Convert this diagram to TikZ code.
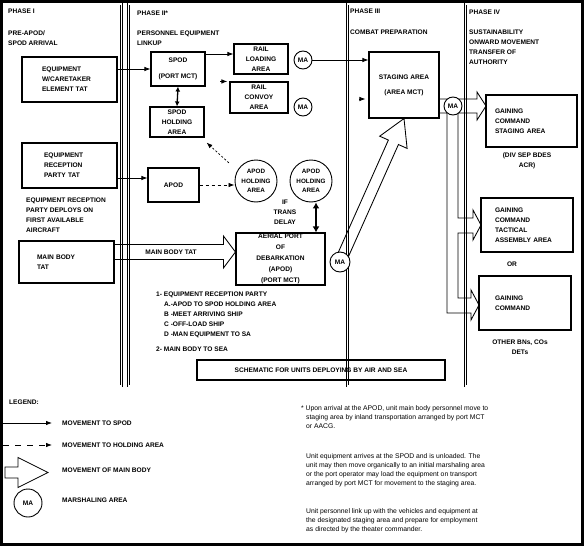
\documentclass[tikz,border=0pt]{standalone}
\usepackage{fontspec}
\setmainfont{Liberation Sans}
\usetikzlibrary{calc,arrows.meta}

\newcommand{\fatarrow}[5]{%
  \coordinate (fa-b) at ($(#2)!#5!(#1)$);
  \draw[fat] ($(#1)!#3!90:(#2)$) -- ($(fa-b)!#3!-90:(#1)$) -- ($(fa-b)!#4!-90:(#1)$) -- (#2)
    -- ($(fa-b)!#4!90:(#1)$) -- ($(fa-b)!#3!90:(#1)$) -- ($(#1)!#3!-90:(#2)$) -- cycle;}

\begin{document}
\begin{tikzpicture}[x=1pt,y=-1pt,
  lbl/.style={inner sep=0pt, align=left, font=\fontsize{6.6}{10}\selectfont\bfseries},
  box/.style={draw, line width=1.1pt, inner sep=0pt, align=left, font=\fontsize{6.6}{10}\selectfont\bfseries},
  cbox/.style={box, align=center},
  ma/.style={draw, circle, fill=white, line width=0.9pt, inner sep=0pt, minimum size=18pt, font=\fontsize{6.6}{10}\selectfont\bfseries},
  hold/.style={draw, circle, line width=0.9pt, inner sep=0pt, minimum size=42pt, align=center, font=\fontsize{6.3}{9.5}\selectfont\bfseries},
  phase/.style={draw, double, double distance=1.3pt, line width=0.75pt},
  mv/.style={-{Latex[length=6pt,width=4.5pt]}, line width=0.8pt},
  mvhold/.style={mv, dash pattern=on 3pt off 3pt},
  both/.style={{Latex[length=5pt,width=5pt]}-{Latex[length=5pt,width=5pt]}, line width=1.3pt},
  bothbig/.style={{Latex[length=6pt,width=7pt]}-{Latex[length=6pt,width=7pt]}, line width=1.9pt},
  fat/.style={line width=0.85pt},
  note/.style={inner sep=0pt, align=left, font=\fontsize{6.8}{9}\selectfont}]
\useasboundingbox (0,0) rectangle (584,546);
\fill[white] (0,0) rectangle (584,546);
\draw[line width=2.6pt] (1.3,1.3) rectangle (582.7,544.7);
\draw[phase] (5,4) rectangle (121.5,386);
\draw[phase] (128.5,4) rectangle (343,386);
\draw[phase] (347.5,4) rectangle (461,386);
\draw[phase] (465.5,4) rectangle (580,386);

\node[lbl, anchor=west] (ph1) at (8,11) {PHASE I};
\node[lbl, anchor=west] (ph1t) at (8,38) {PRE-APOD/\\SPOD ARRIVAL};
\node[box, minimum width=95pt, minimum height=45pt, text width=55pt] (eqcare) at (69.5,79.5) {EQUIPMENT\\W/CARETAKER\\ELEMENT TAT};
\node[box, minimum width=95pt, minimum height=45pt, text width=51pt] (eqrec) at (69.5,165.5) {EQUIPMENT\\RECEPTION\\PARTY TAT};
\node[lbl, anchor=west] (deploy) at (26,215) {EQUIPMENT RECEPTION\\PARTY DEPLOYS ON\\FIRST AVAILABLE\\AIRCRAFT};
\node[box, minimum width=95pt, minimum height=42pt, text width=59pt] (mainbody) at (66.5,262) {MAIN BODY\\TAT};

\node[lbl, anchor=west] (ph2) at (137,13) {PHASE II*};
\node[lbl, anchor=west] (ph2t) at (137,38) {PERSONNEL EQUIPMENT\\LINKUP};
\node[cbox, minimum width=54pt, minimum height=34pt] (spod) at (178,69) {SPOD\\[6pt](PORT MCT)};
\node[cbox, minimum width=54pt, minimum height=30pt] (railload) at (261,59) {RAIL\\LOADING\\AREA};
\node[cbox, minimum width=58pt, minimum height=31pt] (railconv) at (259,97.5) {RAIL\\CONVOY\\AREA};
\node[cbox, minimum width=54pt, minimum height=30pt] (spodhold) at (177,122) {SPOD\\HOLDING\\AREA};
\node[cbox, minimum width=51pt, minimum height=34pt] (apod) at (173.5,185) {APOD};
\node[hold] (apodh1) at (256,181) {APOD\\HOLDING\\AREA};
\node[hold] (apodh2) at (311,181) {APOD\\HOLDING\\AREA};
\node[lbl, align=center] (delay) at (285,212) {IF\\TRANS\\DELAY};
\node[cbox, minimum width=89pt, minimum height=52pt, font=\fontsize{6.6}{11}\selectfont\bfseries] (aerial) at (280.5,259) {AERIAL PORT\\OF\\DEBARKATION\\(APOD)\\(PORT MCT)};
\node[lbl, anchor=north west] (tasks) at (156,292) {1- EQUIPMENT RECEPTION PARTY\\
  \hspace*{8pt}A.-APOD TO SPOD HOLDING AREA\\
  \hspace*{8pt}B -MEET ARRIVING SHIP\\
  \hspace*{8pt}C -OFF-LOAD SHIP\\
  \hspace*{8pt}D -MAN EQUIPMENT TO SA\\[5pt]
  2- MAIN BODY TO SEA};
\node[cbox, minimum width=248pt, minimum height=20pt] (schem) at (321,370) {SCHEMATIC FOR UNITS DEPLOYING BY AIR AND SEA};
\node[lbl] (mbtat) at (171,252) {MAIN BODY TAT};

\node[lbl, anchor=west] (ph3) at (350,11) {PHASE III};
\node[lbl, anchor=west] (ph3t) at (350,32) {COMBAT PREPARATION};
\node[cbox, minimum width=70pt, minimum height=66pt] (staging) at (404,85) {STAGING AREA\\[5pt](AREA MCT)};

\node[lbl, anchor=west] (ph4) at (469,12) {PHASE IV};
\node[lbl, anchor=west] (ph4t) at (469,47) {SUSTAINABILITY\\ONWARD MOVEMENT\\TRANSFER OF\\AUTHORITY};
\node[box, minimum width=91pt, minimum height=52pt, text width=73pt] (gcstage) at (531.5,121) {GAINING\\COMMAND\\STAGING AREA};
\node[lbl, align=center] (divsep) at (527,161) {(DIV SEP BDES\\ACR)};
\node[box, minimum width=92pt, minimum height=54pt, text width=64pt] (gctaa) at (527,225) {GAINING\\COMMAND\\TACTICAL\\ASSEMBLY AREA};
\node[lbl] (or) at (512,264) {OR};
\node[box, minimum width=92pt, minimum height=54pt, text width=60pt] (gcother) at (525,303) {GAINING\\COMMAND};
\node[lbl, align=center] (otherbn) at (520,347) {OTHER BNs, COs\\DETs};

\coordinate (ma3c) at (340,262);
\coordinate (ma4c) at (453,106);
\coordinate (mb-a) at (mainbody.east |- 0,252);
\coordinate (mb-b) at (aerial.west |- 0,252);
\fatarrow{mb-a}{mb-b}{7.5pt}{16pt}{12pt}
\fatarrow{ma3c}{staging.south}{5.5pt}{15pt}{26pt}
\draw[fat] (staging.east |- 0,99) -- (477,99) -- (477,92) -- (486,106) -- (477,120) -- (477,113)
  -- (458,113) -- (458,218) -- (473,218) -- (473,210) -- (481,225) -- (473,240) -- (473,233)
  -- (458,233) -- (458,298) -- (471,298) -- (471,290) -- (479,305) -- (471,320) -- (471,313)
  -- (447,313) -- (447,113) -- (staging.east |- 0,113);

\node[ma] (ma1) at (303,60) {MA};
\node[ma] (ma2) at (303,107) {MA};
\node[ma, minimum size=20pt] (ma3) at (ma3c) {MA};
\node[ma] (ma4) at (ma4c) {MA};

\draw[mv] (eqcare.east |- spod.west) -- (spod.west);
\draw[mv] (eqrec.east |- 0,178) -- (apod.west |- 0,178);
\draw[mv] (spod.east |- 0,54) -- (railload.west |- 0,54);
\draw[mv] ([xshift=-9pt]railconv.north west) -- ([xshift=-2pt]railconv.north west);
\draw[both] (spod.south) -- (spodhold.north);
\draw[mvhold] (apod.east) -- (apod.east -| apodh1.west);
\draw[mvhold, dash pattern=on 2pt off 2pt] ([shift={(-12pt,3pt)}]apodh1.north west) -- ([shift={(2pt,-5pt)}]spodhold.south east);
\draw[bothbig] ([xshift=5pt]apodh2.south) -- ([xshift=5pt]apodh2.south |- aerial.north);
\draw[mv] (ma1.east) -- (staging.west |- ma1.east);
\draw[mv] ([shift={(-9pt,-14pt)}]staging.west) -- ([shift={(-3pt,-14pt)}]staging.west);

\node[lbl, anchor=west] (legend) at (9,402) {LEGEND:};
\node[lbl, anchor=west] (lg1) at (62,423) {MOVEMENT TO SPOD};
\node[lbl, anchor=west] (lg2) at (62,445) {MOVEMENT TO HOLDING AREA};
\node[lbl, anchor=west] (lg3) at (62,470) {MOVEMENT OF MAIN BODY};
\node[lbl, anchor=west] (lg4) at (62,500) {MARSHALING AREA};
\coordinate (lg1a) at (3,423);
\coordinate (lg2a) at (3,445);
\coordinate (lg3a) at (5,472.5);
\coordinate (lg3b) at (48,472.5);
\draw[mv] (lg1a) -- ([xshift=-10pt]lg1.west);
\draw[mv, dash pattern=on 6pt off 6pt] (lg2a) -- ([xshift=-10pt]lg2.west);
\fatarrow{lg3a}{lg3b}{5.5pt}{15pt}{30pt}
\node[ma, minimum size=28pt] (lgma) at (28,503) {MA};

\node[note, anchor=north west] (note1) at (301,405) {* Upon arrival at the APOD, unit main body personnel move to\\\hspace*{5pt}staging area by inland transportation arranged by port MCT\\\hspace*{5pt}or AACG.};
\node[note, anchor=north west] (note2) at (306,453) {Unit equipment arrives at the SPOD and is unloaded. The\\unit may then move organically to an initial marshaling area\\or the port operator may load the equipment on transport\\arranged by port MCT for movement to the staging area.};
\node[note, anchor=north west] (note3) at (306,508) {Unit personnel link up with the vehicles and equipment at\\the designated staging area and prepare for employment\\as directed by the theater commander.};
\end{tikzpicture}
\end{document}
